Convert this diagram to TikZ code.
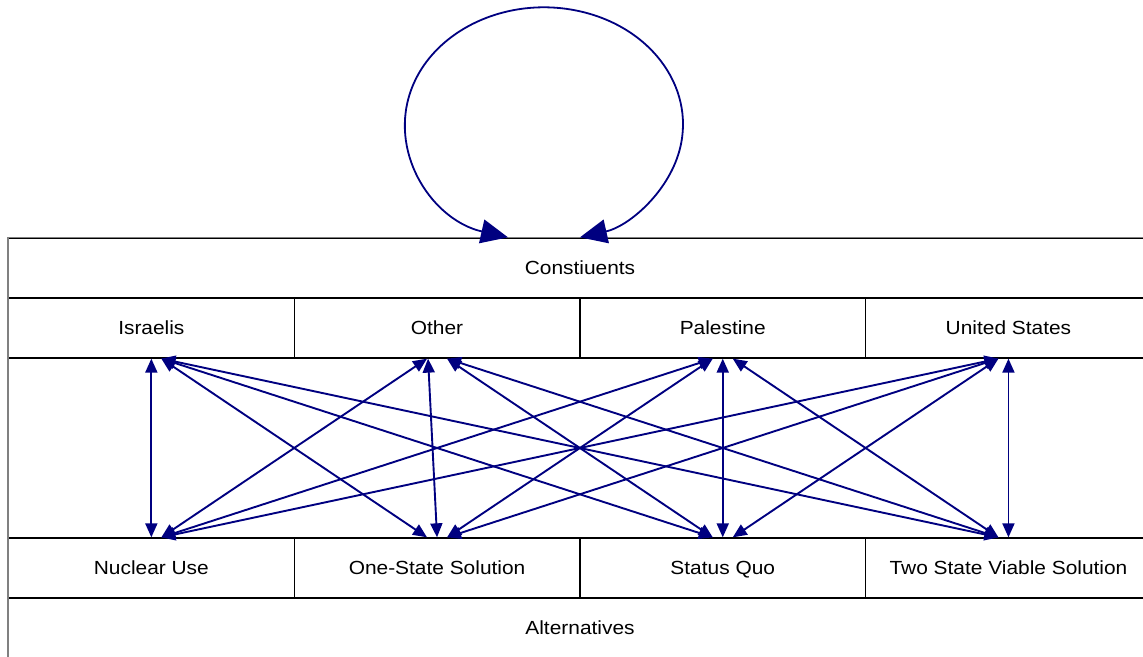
\documentclass[tikz,border=0pt]{standalone}
\usepackage{fontspec}
\setmainfont[FakeStretch=1.1]{Liberation Sans}
\usetikzlibrary{arrows.meta}
\definecolor{linknavy}{RGB}{0,0,128}
\definecolor{edgegray}{RGB}{128,128,128}
\tikzset{
  cell/.style={draw=black, line width=1.3pt, rectangle, inner sep=0pt,
    minimum width=285.7pt, minimum height=60pt,
    text height=17.6pt, text depth=3.8pt,
    font=\fontsize{19}{22}\selectfont},
  wide/.style={cell, minimum width=1142.9pt},
  link/.style={draw=linknavy, line width=1.9pt,
    {Triangle[length=14pt,width=12pt]}-{Triangle[length=14pt,width=12pt]}},
  selfloop/.style={draw=linknavy, line width=1.8pt,
    {Triangle[length=27pt,width=24pt]}-{Triangle[length=27pt,width=24pt]}}
}
\begin{document}
\begin{tikzpicture}[x=1pt,y=1pt]
\useasboundingbox (0,0) rectangle (1143,656);

% constituents block
\node[wide] (cons) at (580,388) {Constiuents};
\node[cell] (isr) at (151.35,328) {Israelis};
\node[cell] (oth) at (437.05,328) {Other};
\node[cell] (pal) at (722.75,328) {Palestine};
\node[cell] (us)  at (1008.45,328) {United States};

% alternatives block
\node[cell] (nuc) at (151.35,88) {Nuclear Use};
\node[cell] (one) at (437.05,88) {One-State Solution};
\node[cell] (sq)  at (722.75,88) {Status Quo};
\node[cell] (two) at (1008.45,88) {Two State Viable Solution};
\node[wide] (alt) at (580,28) {Alternatives};

% lighter outer frame on the left and top
\draw[edgegray, line width=1.3pt] (alt.south west) -- (cons.north west) -- (cons.north east);

% self relation of the constituents block
\draw[selfloop] ([xshift=-72pt]cons.north)
  arc[start angle=255, end angle=-75, x radius=139pt, y radius=117pt];

% every constituent linked with every alternative
\foreach \t/\i in {isr/1,oth/2,pal/3,us/4}{
  \foreach \b/\j in {nuc/1,one/2,sq/3,two/4}{
    \pgfmathsetmacro{\dt}{(\i==2 && \j==2) ? -9 : 10*sign(\j-\i)}
    \pgfmathsetmacro{\db}{10*sign(\i-\j)}
    \draw[link] ([xshift=\dt pt]\t.south) -- ([xshift=\db pt]\b.north);
  }
}
\end{tikzpicture}
\end{document}
